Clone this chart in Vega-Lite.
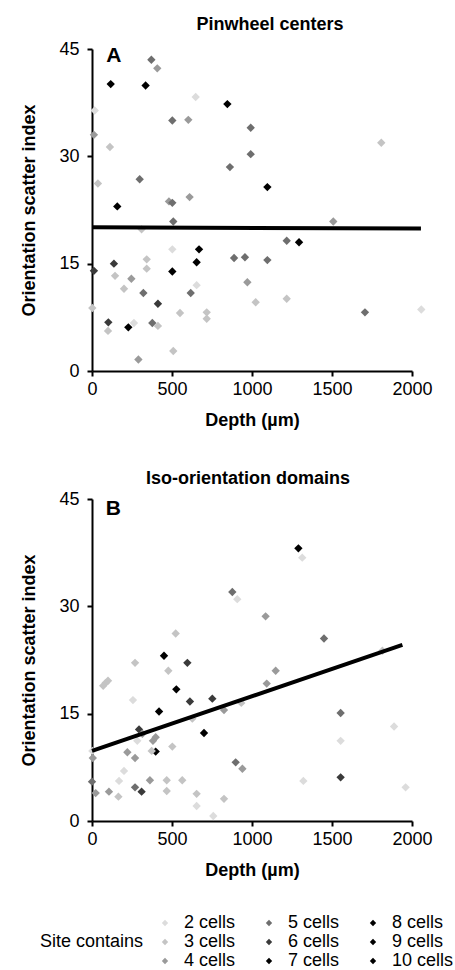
{
  "$schema": "https://vega.github.io/schema/vega-lite/v6.json",
  "padding": {"left": 20, "top": 16, "right": 0, "bottom": 5},
  "background": "white",
  "datasets": {
    "pinwheel": [
      {"depth": 371, "osi": 43.5, "cells": 5}, {"depth": 408, "osi": 42.3, "cells": 4},
      {"depth": 117, "osi": 40.1, "cells": 8}, {"depth": 335, "osi": 39.9, "cells": 9},
      {"depth": 648, "osi": 38.3, "cells": 2}, {"depth": 846, "osi": 37.3, "cells": 8},
      {"depth": 17, "osi": 36.4, "cells": 2}, {"depth": 502, "osi": 35.0, "cells": 5},
      {"depth": 602, "osi": 35.1, "cells": 4}, {"depth": 992, "osi": 34.0, "cells": 5},
      {"depth": 12, "osi": 33.0, "cells": 4}, {"depth": 112, "osi": 31.3, "cells": 3},
      {"depth": 992, "osi": 30.3, "cells": 5}, {"depth": 862, "osi": 28.5, "cells": 5},
      {"depth": 37, "osi": 26.2, "cells": 3}, {"depth": 298, "osi": 26.8, "cells": 5},
      {"depth": 1096, "osi": 25.7, "cells": 7}, {"depth": 158, "osi": 23.0, "cells": 7},
      {"depth": 481, "osi": 23.7, "cells": 4}, {"depth": 502, "osi": 23.5, "cells": 5},
      {"depth": 610, "osi": 24.3, "cells": 4}, {"depth": 508, "osi": 20.9, "cells": 5},
      {"depth": 310, "osi": 19.8, "cells": 3}, {"depth": 502, "osi": 17.0, "cells": 2},
      {"depth": 669, "osi": 17.0, "cells": 8}, {"depth": 137, "osi": 15.0, "cells": 6},
      {"depth": 342, "osi": 15.6, "cells": 3}, {"depth": 654, "osi": 15.2, "cells": 7},
      {"depth": 888, "osi": 15.8, "cells": 5}, {"depth": 956, "osi": 15.9, "cells": 5},
      {"depth": 1096, "osi": 15.5, "cells": 5}, {"depth": 12, "osi": 14.0, "cells": 6},
      {"depth": 342, "osi": 14.3, "cells": 3}, {"depth": 502, "osi": 13.9, "cells": 10},
      {"depth": 144, "osi": 13.3, "cells": 3}, {"depth": 246, "osi": 12.9, "cells": 4},
      {"depth": 200, "osi": 11.5, "cells": 3}, {"depth": 321, "osi": 10.9, "cells": 5},
      {"depth": 617, "osi": 10.9, "cells": 5}, {"depth": 654, "osi": 12.0, "cells": 2},
      {"depth": 971, "osi": 12.4, "cells": 4}, {"depth": 412, "osi": 9.4, "cells": 6},
      {"depth": 1023, "osi": 9.6, "cells": 3}, {"depth": 2, "osi": 8.8, "cells": 3},
      {"depth": 550, "osi": 8.1, "cells": 3}, {"depth": 717, "osi": 8.2, "cells": 3},
      {"depth": 717, "osi": 7.3, "cells": 3}, {"depth": 102, "osi": 6.8, "cells": 6},
      {"depth": 100, "osi": 5.6, "cells": 3}, {"depth": 227, "osi": 6.1, "cells": 7},
      {"depth": 262, "osi": 6.7, "cells": 2}, {"depth": 377, "osi": 6.7, "cells": 5},
      {"depth": 412, "osi": 6.3, "cells": 3}, {"depth": 508, "osi": 2.8, "cells": 3},
      {"depth": 290, "osi": 1.6, "cells": 4}, {"depth": 1508, "osi": 20.9, "cells": 4},
      {"depth": 1217, "osi": 18.2, "cells": 5}, {"depth": 1294, "osi": 18.0, "cells": 7},
      {"depth": 1217, "osi": 10.1, "cells": 3}, {"depth": 1706, "osi": 8.2, "cells": 5},
      {"depth": 2058, "osi": 8.6, "cells": 2}, {"depth": 1808, "osi": 31.9, "cells": 3}
    ],
    "iso": [
      {"depth": 877, "osi": 32.0, "cells": 5}, {"depth": 908, "osi": 31.0, "cells": 2},
      {"depth": 1085, "osi": 28.6, "cells": 4}, {"depth": 523, "osi": 26.2, "cells": 3},
      {"depth": 450, "osi": 23.1, "cells": 8}, {"depth": 1290, "osi": 38.1, "cells": 9},
      {"depth": 1314, "osi": 36.8, "cells": 2}, {"depth": 1450, "osi": 25.5, "cells": 5},
      {"depth": 1815, "osi": 23.8, "cells": 3}, {"depth": 269, "osi": 22.1, "cells": 3},
      {"depth": 596, "osi": 22.1, "cells": 6}, {"depth": 477, "osi": 21.0, "cells": 3},
      {"depth": 1148, "osi": 21.0, "cells": 4}, {"depth": 70, "osi": 18.9, "cells": 3},
      {"depth": 85, "osi": 19.3, "cells": 3}, {"depth": 100, "osi": 19.6, "cells": 3},
      {"depth": 1092, "osi": 19.2, "cells": 4}, {"depth": 527, "osi": 18.4, "cells": 8},
      {"depth": 256, "osi": 16.9, "cells": 2}, {"depth": 612, "osi": 16.7, "cells": 6},
      {"depth": 752, "osi": 17.1, "cells": 6}, {"depth": 933, "osi": 16.5, "cells": 3},
      {"depth": 825, "osi": 15.5, "cells": 4}, {"depth": 419, "osi": 15.3, "cells": 7},
      {"depth": 627, "osi": 14.3, "cells": 3}, {"depth": 294, "osi": 12.8, "cells": 6},
      {"depth": 315, "osi": 12.2, "cells": 4}, {"depth": 700, "osi": 12.3, "cells": 10},
      {"depth": 398, "osi": 11.7, "cells": 4}, {"depth": 381, "osi": 11.2, "cells": 4},
      {"depth": 283, "osi": 11.2, "cells": 2}, {"depth": 502, "osi": 10.4, "cells": 3},
      {"depth": 398, "osi": 9.7, "cells": 10}, {"depth": 373, "osi": 9.8, "cells": 3},
      {"depth": 2, "osi": 9.8, "cells": 2}, {"depth": 5, "osi": 8.8, "cells": 4},
      {"depth": 221, "osi": 9.6, "cells": 4}, {"depth": 269, "osi": 8.8, "cells": 4},
      {"depth": 898, "osi": 8.2, "cells": 5}, {"depth": 940, "osi": 7.3, "cells": 4},
      {"depth": 200, "osi": 7.0, "cells": 2}, {"depth": 169, "osi": 5.6, "cells": 2},
      {"depth": 362, "osi": 5.7, "cells": 4}, {"depth": 467, "osi": 5.7, "cells": 3},
      {"depth": 564, "osi": 5.7, "cells": 3}, {"depth": 0, "osi": 5.5, "cells": 5},
      {"depth": 269, "osi": 4.7, "cells": 5}, {"depth": 310, "osi": 4.1, "cells": 6},
      {"depth": 23, "osi": 3.9, "cells": 4}, {"depth": 106, "osi": 4.1, "cells": 4},
      {"depth": 165, "osi": 3.4, "cells": 3}, {"depth": 467, "osi": 4.2, "cells": 3},
      {"depth": 654, "osi": 3.8, "cells": 3}, {"depth": 654, "osi": 2.1, "cells": 2},
      {"depth": 825, "osi": 3.1, "cells": 3}, {"depth": 758, "osi": 0.7, "cells": 2},
      {"depth": 1554, "osi": 15.1, "cells": 5}, {"depth": 1888, "osi": 13.2, "cells": 2},
      {"depth": 1554, "osi": 11.2, "cells": 2}, {"depth": 1554, "osi": 6.1, "cells": 6},
      {"depth": 1321, "osi": 5.6, "cells": 2}, {"depth": 1960, "osi": 4.7, "cells": 2}
    ],
    "fitA": [{"depth": 0, "osi": 20.1}, {"depth": 2056, "osi": 19.9}],
    "fitB": [{"depth": 0, "osi": 9.8}, {"depth": 1940, "osi": 24.6}]
  },
  "spacing": 41,
  "vconcat": [
    {
      "width": 320,
      "height": 322,
      "title": {"text": "Pinwheel centers", "dx": 18, "offset": 6},
      "layer": [
        {
          "data": {"name": "pinwheel"},
          "mark": {"type": "point", "filled": true, "shape": "diamond", "size": 70, "opacity": 1},
          "encoding": {
            "x": {"field": "depth", "type": "quantitative", "scale": {"domain": [0, 2000], "nice": false}, "axis": {"values": [0, 500, 1000, 1500, 2000], "format": "d", "title": "Depth (µm)"}},
            "y": {"field": "osi", "type": "quantitative", "scale": {"domain": [0, 45], "nice": false}, "axis": {"values": [0, 15, 30, 45], "title": "Orientation scatter index"}},
            "color": {"field": "cells", "type": "nominal", "scale": {"domain": [2, 5, 8, 3, 6, 9, 4, 7, 10], "range": ["#dcdcdc", "#6e6e6e", "#000000", "#c4c4c4", "#3a3a3a", "#000000", "#9a9a9a", "#000000", "#000000"]}, "legend": {"title": "Site contains", "labelExpr": "datum.label + ' cells'", "orient": "none", "direction": "horizontal", "legendX": -52, "legendY": 865}}
          }
        },
        {
          "data": {"name": "fitA"},
          "mark": {"type": "line", "color": "black", "strokeWidth": 4},
          "encoding": {"x": {"field": "depth", "type": "quantitative"}, "y": {"field": "osi", "type": "quantitative"}}
        },
        {
          "data": {"values": [{"panel": "A"}]},
          "mark": {"type": "text", "fontSize": 21, "fontWeight": "bold", "font": "Liberation Sans", "align": "center", "baseline": "middle", "color": "black"},
          "encoding": {"x": {"datum": 137}, "y": {"datum": 44.0}, "text": {"field": "panel"}}
        }
      ]
    },
    {
      "width": 320,
      "height": 322,
      "title": {"text": "Iso-orientation domains", "dx": -4, "offset": 2},
      "layer": [
        {
          "data": {"name": "iso"},
          "mark": {"type": "point", "filled": true, "shape": "diamond", "size": 70, "opacity": 1},
          "encoding": {
            "x": {"field": "depth", "type": "quantitative", "scale": {"domain": [0, 2000], "nice": false}, "axis": {"values": [0, 500, 1000, 1500, 2000], "format": "d", "title": "Depth (µm)"}},
            "y": {"field": "osi", "type": "quantitative", "scale": {"domain": [0, 45], "nice": false}, "axis": {"values": [0, 15, 30, 45], "title": "Orientation scatter index"}},
            "color": {"field": "cells", "type": "nominal", "scale": {"domain": [2, 5, 8, 3, 6, 9, 4, 7, 10], "range": ["#dcdcdc", "#6e6e6e", "#000000", "#c4c4c4", "#3a3a3a", "#000000", "#9a9a9a", "#000000", "#000000"]}, "legend": {"title": "Site contains", "labelExpr": "datum.label + ' cells'", "orient": "none", "direction": "horizontal", "legendX": -52, "legendY": 865}}
          }
        },
        {
          "data": {"name": "fitB"},
          "mark": {"type": "line", "color": "black", "strokeWidth": 4},
          "encoding": {"x": {"field": "depth", "type": "quantitative"}, "y": {"field": "osi", "type": "quantitative"}}
        },
        {
          "data": {"values": [{"panel": "B"}]},
          "mark": {"type": "text", "fontSize": 21, "fontWeight": "bold", "font": "Liberation Sans", "align": "center", "baseline": "middle", "color": "black"},
          "encoding": {"x": {"datum": 134}, "y": {"datum": 43.6}, "text": {"field": "panel"}}
        }
      ]
    }
  ],
  "resolve": {"scale": {"color": "shared"}, "legend": {"color": "shared"}},
  "config": {
    "view": {"stroke": null},
    "font": "Liberation Sans",
    "title": {"font": "Liberation Sans", "fontSize": 18, "fontWeight": "bold", "color": "black", "anchor": "middle"},
    "axis": {
      "grid": false,
      "labelFlush": false,
      "domainColor": "black",
      "domainWidth": 2,
      "tickColor": "black",
      "tickWidth": 2,
      "tickSize": 5,
      "labelFont": "Liberation Sans",
      "labelFontSize": 18,
      "labelColor": "black",
      "labelPadding": 4,
      "titleFont": "Liberation Sans",
      "titleFontSize": 18,
      "titleFontWeight": "bold",
      "titleColor": "black",
      "titlePadding": 13
    },
    "axisY": {"labelPadding": 8, "titlePadding": 20},
    "legend": {
      "columns": 3,
      "columnPadding": 24,
      "rowPadding": 1,
      "symbolType": "diamond",
      "symbolSize": 40,
      "symbolStrokeWidth": 0,
      "labelFont": "Liberation Sans",
      "labelFontSize": 18,
      "labelColor": "black",
      "labelOffset": 10,
      "titleFont": "Liberation Sans",
      "titleFontSize": 18,
      "titleFontWeight": "normal",
      "titleColor": "black",
      "titleOrient": "left",
      "titlePadding": 12
    }
  }
}
